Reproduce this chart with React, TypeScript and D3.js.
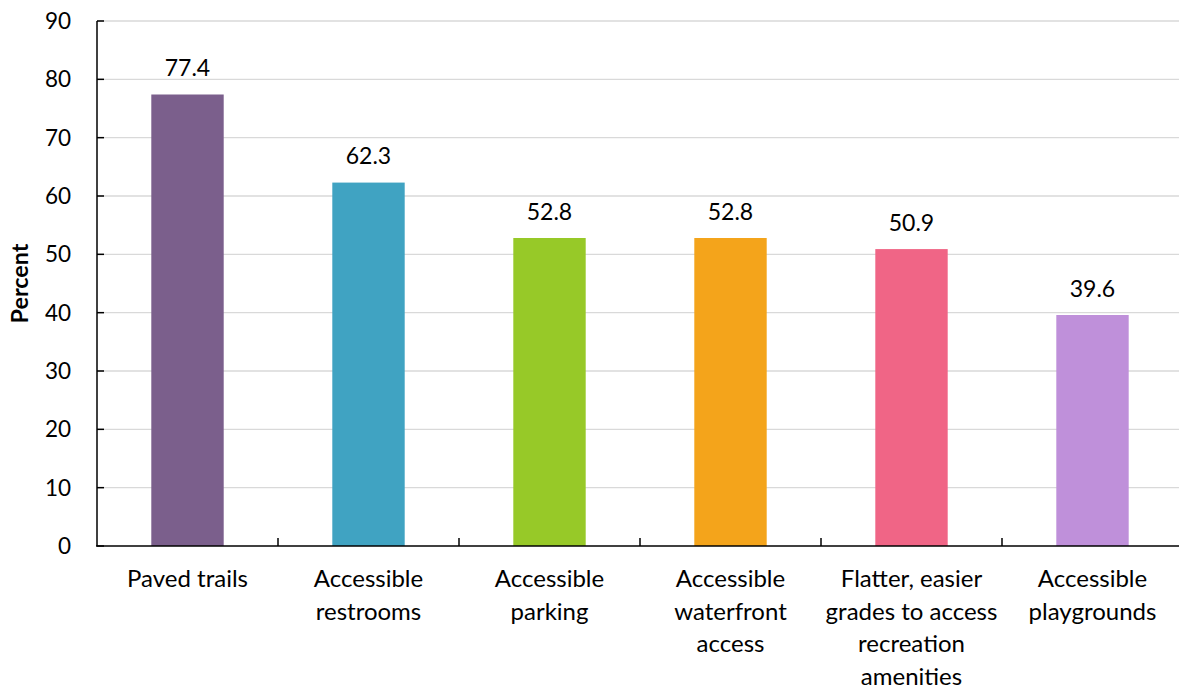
import React from "react";
import * as d3 from "d3";

const categories: string[][] = [
  ["Paved trails"],
  ["Accessible", "restrooms"],
  ["Accessible", "parking"],
  ["Accessible", "waterfront", "access"],
  ["Flatter, easier", "grades to access", "recreation", "amenities"],
  ["Accessible", "playgrounds"],
];
const values: number[] = [77.4, 62.3, 52.8, 52.8, 50.9, 39.6];
const colors: string[] = ["#7B5F8C", "#40A3C2", "#97C928", "#F4A41B", "#F06586", "#BF90DA"];
const yTicks: number[] = [0, 10, 20, 30, 40, 50, 60, 70, 80, 90];
const yLabel = "Percent";

const W = 1179;
const H = 688;
const FONT = "Lato, 'Open Sans', sans-serif";

export default function App() {
  const x = d3.scaleBand<number>().domain(d3.range(values.length)).range([97, 1183]).paddingInner(0.6).paddingOuter(0.3);
  const xCat = d3.scaleBand<number>().domain(d3.range(values.length)).range([97, 1183]);
  const y = d3.scaleLinear().domain([0, 90]).range([546, 21]);

  return (
    <svg width={W} height={H} style={{ position: "absolute", left: 0, top: 0, background: "#fff" }}>
      {yTicks.map((t) => (
        <g key={t}>
          {t > 0 && <line x1={97} x2={1183} y1={y(t)} y2={y(t)} stroke="#D9D9D9" strokeWidth={1.3} />}
          <line x1={97} x2={104} y1={y(t)} y2={y(t)} stroke="#000" strokeWidth={1.5} />
          <text x={71} y={y(t)} dy="0.36em" textAnchor="end" fontFamily={FONT} fontSize={22.5} fill="#000">
            {t}
          </text>
        </g>
      ))}
      {values.map((v, i) => (
        <g key={i}>
          <rect x={x(i)} y={y(v)} width={x.bandwidth()} height={y(0) - y(v)} fill={colors[i]} />
          <text x={x(i)! + x.bandwidth() / 2} y={y(v) - 18.5} textAnchor="middle" fontFamily={FONT} fontSize={23} fill="#000">
            {v.toFixed(1)}
          </text>
          {categories[i].map((line, j) => (
            <text key={j} x={xCat(i)! + xCat.bandwidth() / 2} y={587 + j * 32.5} textAnchor="middle" fontFamily={FONT} fontSize={24} fill="#000">
              {line}
            </text>
          ))}
        </g>
      ))}
      {d3.range(1, values.length).map((i) => (
        <line key={i} x1={xCat(i)} x2={xCat(i)} y1={546} y2={538} stroke="#000" strokeWidth={1.5} />
      ))}
      <line x1={97} x2={97} y1={21} y2={546} stroke="#000" strokeWidth={1.5} />
      <line x1={96} x2={1183} y1={546} y2={546} stroke="#000" strokeWidth={1.5} />
      <text
        transform={`translate(28,${(y(0) + y(90)) / 2}) rotate(-90)`}
        textAnchor="middle"
        fontFamily={FONT}
        fontWeight="bold"
        fontSize={22}
        textLength={80}
        lengthAdjust="spacingAndGlyphs"
        fill="#000"
      >
        {yLabel}
      </text>
    </svg>
  );
}
